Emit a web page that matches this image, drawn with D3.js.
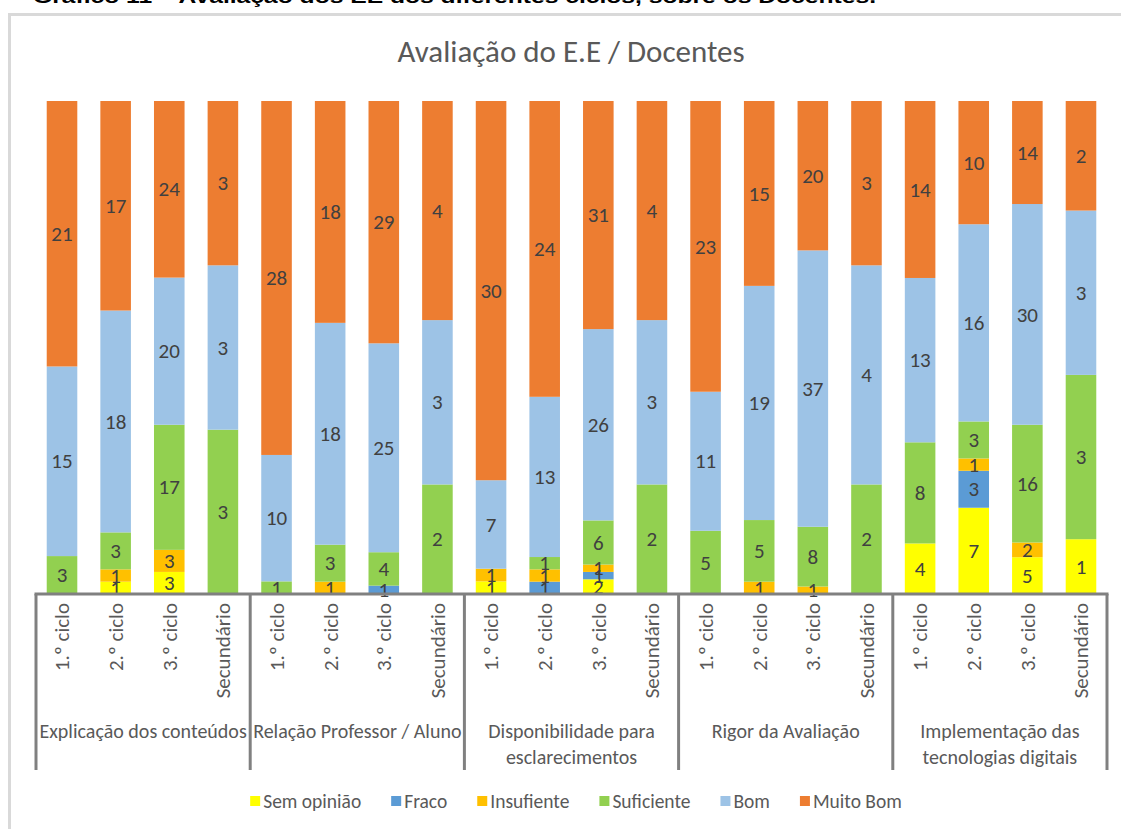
<!DOCTYPE html>
<html><head><meta charset="utf-8">
<script src="https://cdn.jsdelivr.net/npm/d3@7"></script>
<style>
body{margin:0;background:#fff;}
svg{display:block;font-family:Carlito,Lato,"Open Sans",sans-serif;}
</style></head><body>
<svg id="c" width="1121" height="829"></svg>
<script>
const groups = ["Explicação dos conteúdos","Relação Professor / Aluno","Disponibilidade para|esclarecimentos","Rigor da Avaliação","Implementação das|tecnologias digitais"];
const cycles = ["1.º ciclo","2.º ciclo","3.º ciclo","Secundário"];
const seriesNames = ["Sem opinião","Fraco","Insufiente","Suficiente","Bom","Muito Bom"];
const seriesColors = ["#FFFF00","#5B9BD5","#FFC000","#92D050","#9DC3E6","#ED7D31"];
// values per bar (5 groups x 4 cycles)
const semOpiniao = [0,1,3,0, 0,0,0,0, 1,0,2,0, 0,0,0,0, 4,7,5,1];
const fraco      = [0,0,0,0, 0,0,1,0, 0,1,1,0, 0,0,0,0, 0,3,0,0];
const insufiente = [0,1,3,0, 0,1,0,0, 1,1,1,0, 0,1,1,0, 0,1,2,0];
const suficiente = [3,3,17,3, 1,3,4,2, 0,1,6,2, 5,5,8,2, 8,3,16,3];
const bom        = [15,18,20,3, 10,18,25,3, 7,13,26,3, 11,19,37,4, 13,16,30,3];
const muitoBom   = [21,17,24,3, 28,18,29,4, 30,24,31,4, 23,15,20,3, 14,10,14,2];
const seriesValues = [semOpiniao,fraco,insufiente,suficiente,bom,muitoBom];

const svg = d3.select("#c");
const txt = "#595959";

// caption (cut off at top)
svg.append("text").attr("x",33).attr("y",3).attr("font-family","Liberation Sans, Arial, sans-serif")
  .attr("font-weight","bold").attr("font-size",19).attr("fill","#000")
  .attr("textLength",843).attr("lengthAdjust","spacingAndGlyphs")
  .text("Gráfico 11 – Avaliação dos EE dos diferentes ciclos, sobre os Docentes.");

// chart frame
svg.append("path").attr("d","M9.5,829 V14.5 H1121").attr("fill","none").attr("stroke","#d9d9d9").attr("stroke-width",3);

svg.append("text").attr("x",571).attr("y",62).attr("text-anchor","middle").attr("font-size",31).attr("fill",txt)
  .text("Avaliação do E.E / Docentes");

const keys = [];
groups.forEach((g,gi)=>cycles.forEach((c,ci)=>keys.push(gi*4+ci)));
const x0 = 36, x1 = 1107, yB = 594, yT = 101;
const x = d3.scaleBand().domain(keys).range([x0,x1]).paddingInner(0.43).paddingOuter(0.2);
const y = d3.scaleLinear().domain([0,1]).range([yB,yT]);

const rows = keys.map(i=>{
  const r = {i};
  seriesNames.forEach((s,si)=>r[s]=seriesValues[si][i]);
  return r;
});
const stack = d3.stack().keys(seriesNames).offset(d3.stackOffsetExpand)(rows);

stack.forEach((layer,li)=>{
  const g = svg.append("g");
  g.selectAll("rect").data(layer).join("rect")
    .attr("x",d=>x(d.data.i)).attr("width",x.bandwidth())
    .attr("y",d=>y(d[1])).attr("height",d=>Math.max(0,y(d[0])-y(d[1])))
    .attr("fill",seriesColors[li]);
});
stack.forEach((layer,li)=>{
  svg.append("g").selectAll("text").data(layer.filter(d=>d.data[seriesNames[li]]>0)).join("text")
    .attr("x",d=>x(d.data.i)+x.bandwidth()/2)
    .attr("y",d=>(y(d[0])+y(d[1]))/2).attr("dy","0.34em")
    .attr("text-anchor","middle").attr("font-size",21).attr("fill","#404040")
    .text(d=>d.data[seriesNames[li]]);
});

// axis
const axisCol = "#808080";
svg.append("line").attr("x1",x0-1.5).attr("x2",x1+1.5).attr("y1",yB).attr("y2",yB).attr("stroke",axisCol).attr("stroke-width",3);
const gw = (x1-x0)/groups.length;
for(let k=0;k<=groups.length;k++){
  const xx = x0 + k*gw;
  svg.append("line").attr("x1",xx).attr("x2",xx).attr("y1",yB).attr("y2",770).attr("stroke",axisCol).attr("stroke-width",3);
}
// cycle labels
svg.append("g").selectAll("text").data(keys).join("text")
  .attr("transform",i=>`translate(${x(i)+x.bandwidth()/2},603) rotate(-90)`)
  .attr("dy","0.35em").attr("text-anchor","end").attr("font-size",21).attr("fill",txt)
  .text(i=>cycles[i%4]);
// group labels
groups.forEach((g,gi)=>{
  const cx = x0 + (gi+0.5)*gw;
  const lines = g.split("|");
  const t = svg.append("text").attr("text-anchor","middle").attr("font-size",20).attr("fill",txt);
  lines.forEach((l,li)=>t.append("tspan").attr("x",cx).attr("y",738+li*25.5).text(l));
});

// legend
const lg = svg.append("g");
let lx = 0;
const gap = 30;
seriesNames.forEach((s,si)=>{
  const it = lg.append("g").attr("transform",`translate(${lx},0)`);
  it.append("rect").attr("x",0).attr("y",-5).attr("width",10).attr("height",10).attr("fill",seriesColors[si]);
  const t = it.append("text").attr("x",13).attr("y",0).attr("dy","0.35em").attr("font-size",19.5).attr("fill",txt).text(s);
  lx += 13 + t.node().getComputedTextLength() + gap;
});
const lw = lx - gap;
lg.attr("transform",`translate(${576 - lw/2},801)`);
</script>
</body></html>
